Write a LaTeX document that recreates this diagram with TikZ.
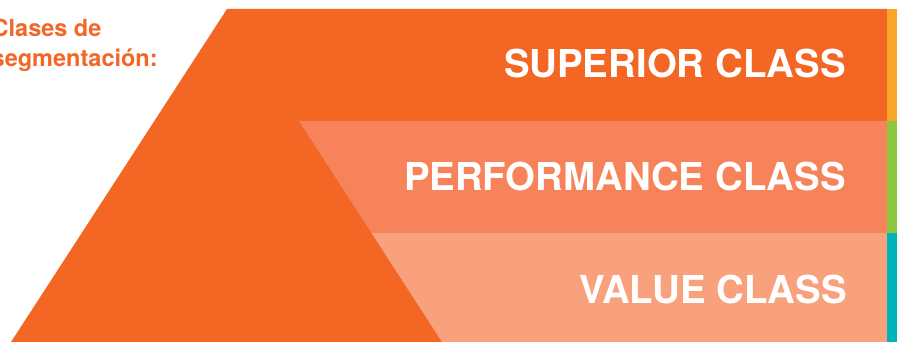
\documentclass[tikz,border=0pt]{standalone}
\usepackage{fontspec}
\setmainfont{TeX Gyre Heros}
\usepackage{tikz}
\usetikzlibrary{positioning}
\definecolor{segDark}{RGB}{243,102,36}
\definecolor{segMid}{RGB}{246,131,90}
\definecolor{segLight}{RGB}{248,161,124}
\definecolor{tabOrange}{RGB}{250,166,41}
\definecolor{tabGreen}{RGB}{141,198,63}
\definecolor{tabTeal}{RGB}{0,178,185}

\begin{document}
\begin{tikzpicture}[x=1pt,y=-1pt,
    classlabel/.style={anchor=base east,inner sep=0pt,text=white,
      font=\fontsize{38.4}{40}\selectfont\bfseries}]
    \useasboundingbox (0,0) rectangle (897,342);

    % pyramid and bands
    \fill[segDark] (227,9) -- (887,9) -- (887,342) -- (11,342) -- cycle;
    \fill[segMid] (299,121) -- (887,121) -- (887,233) -- (371.5,233) -- cycle;
    \fill[segLight] (371.5,233) -- (887,233) -- (887,342) -- (442,342) -- cycle;

    % side tabs
    \fill[tabOrange] (887,9) rectangle (897,121);
    \fill[tabGreen] (887,121) rectangle (897,233);
    \fill[tabTeal] (887,233) rectangle (897,342);

    \node[classlabel] (superior) at (846,77.5) {SUPERIOR CLASS};
    \node[classlabel] (performance) at (846,190) {PERFORMANCE CLASS};
    \node[classlabel] (value) at (847,303) {VALUE CLASS};

    \node[anchor=base west,inner sep=0pt,text=segDark,align=left,
      font=\fontsize{23.5}{30}\selectfont\bfseries] (title) at (-8.5,67)
      {Clases de\\segmentación:};
  \end{tikzpicture}
\end{document}
